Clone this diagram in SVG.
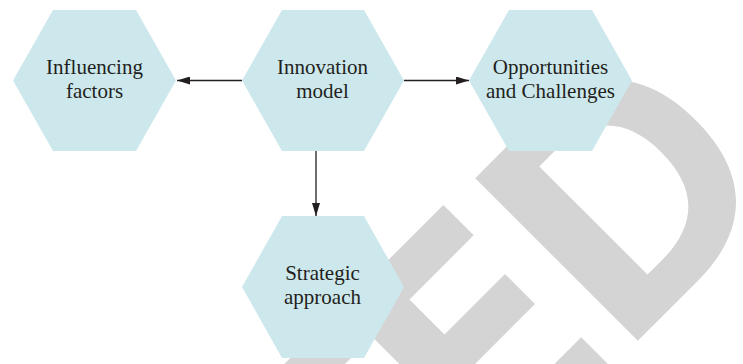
<svg xmlns="http://www.w3.org/2000/svg" width="743" height="364" viewBox="0 0 743 364">
  <style>
    .wm { fill: #d4d4d4; fill-rule: evenodd; }
    .hex { fill: #cde8ec; stroke: none; }
    .lbl { font-family: "Liberation Serif", "Times New Roman", serif; font-size: 21px; fill: #231f20; text-anchor: middle; }
    .conn { stroke: #231f20; stroke-width: 1.3; fill: none; }
  </style>
  <defs>
    <marker id="arrow" viewBox="0 0 13 8" refX="13" refY="4" markerWidth="13" markerHeight="8" markerUnits="userSpaceOnUse" orient="auto">
      <path d="M0,0 L13,4 L0,8 Z" fill="#231f20"/>
    </marker>
  </defs>
  <rect width="743" height="364" fill="#ffffff"/>

  <g id="watermark" transform="matrix(0.70711 -0.70711 0.70711 0.70711 148.5 -148.5)">
    <path class="wm" d="M-330,458.4 L-212,458.4 L-212,501.3 L-330,501.3 Z"/>
    <path class="wm" d="M-185,458.4 L-41.4,458.4 L-41.4,501.3 L-132.2,501.3 L-132.2,550.8 L-46.7,550.8 L-46.7,593.3 L-132.2,593.3 L-132.2,649.4 L-37.5,649.4 L-37.5,692 L-185,692 Z"/>
    <path class="wm" d="M0,462 L85,462 C157.8,462 197,502.3 197,577 C197,651.8 157.8,692 85,692 L0,692 Z M53.7,499 L75,499 C120,499 150,521.4 150,575.5 C150,629.6 120,652 75,652 L53.7,652 Z"/>
  </g>

  <g id="connectors">
    <line class="conn" x1="242" y1="80.5" x2="177" y2="80.5" marker-end="url(#arrow)"/>
    <line class="conn" x1="404" y1="80.5" x2="469" y2="80.5" marker-end="url(#arrow)"/>
    <line class="conn" x1="316" y1="151" x2="316" y2="216" marker-end="url(#arrow)"/>
  </g>

  <g id="influencing-factors">
    <polygon class="hex" points="53,10 136,10 176,80.5 136,151 53,151 13,80.5"/>
    <text class="lbl" x="94.5" y="73.5">Influencing</text>
    <text class="lbl" x="94.5" y="97.5">factors</text>
  </g>

  <g id="innovation-model">
    <polygon class="hex" points="282,10 364,10 404,80.5 364,151 282,151 242,80.5"/>
    <text class="lbl" x="322.5" y="73.5">Innovation</text>
    <text class="lbl" x="322.5" y="97.5">model</text>
  </g>

  <g id="opportunities-challenges">
    <polygon class="hex" points="509,10 592,10 632,80.5 592,151 509,151 469,80.5"/>
    <text class="lbl" x="550.5" y="73.5">Opportunities</text>
    <text class="lbl" x="550.5" y="97.5">and Challenges</text>
  </g>

  <g id="strategic-approach">
    <polygon class="hex" points="282,216 364,216 404,287 364,358 282,358 242,287"/>
    <text class="lbl" x="322.5" y="280">Strategic</text>
    <text class="lbl" x="322.5" y="304">approach</text>
  </g>
</svg>
